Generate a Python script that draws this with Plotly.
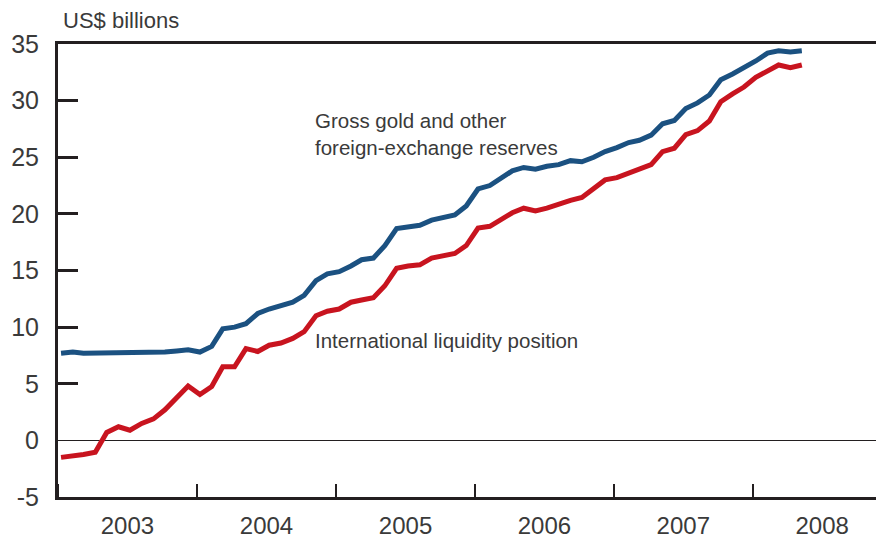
import plotly.graph_objects as go
import pandas as pd

dates = pd.date_range("2003-01-01", "2008-05-01", freq="MS") + pd.Timedelta(days=8)

gross_reserves = [
    7.7, 7.8, 7.7, 7.7, 7.8, 7.7, 7.8, 7.8, 7.8, 7.8, 7.9, 8.0,
    7.8, 8.3, 9.85, 10.0, 10.3, 11.2, 11.6, 11.9, 12.2, 12.8, 14.1, 14.7,
    14.9, 15.4, 15.95, 16.1, 17.2, 18.7, 18.9, 19.0, 19.45, 19.7, 19.9, 20.7,
    22.2, 22.5, 23.1, 23.8, 24.1, 23.95, 24.2, 24.35, 24.7, 24.6, 25.0, 25.5,
    25.85, 26.3, 26.5, 26.95, 27.95, 28.25, 29.3, 29.8, 30.5, 31.85, 32.35, 32.9,
    33.5, 34.2, 34.4, 34.3, 34.4,
]
liquidity_position = [
    -1.5, -1.4, -1.25, -1.05, 0.7, 1.2, 0.9, 1.5, 1.9, 2.7, 3.85, 4.8,
    4.05, 4.75, 6.5, 6.5, 8.1, 7.85, 8.4, 8.6, 9.0, 9.6, 11.0, 11.4,
    11.6, 12.2, 12.4, 12.6, 13.65, 15.2, 15.4, 15.5, 16.1, 16.3, 16.5, 17.2,
    18.75, 18.9, 19.45, 20.1, 20.5, 20.25, 20.5, 20.9, 21.2, 21.45, 22.2, 23.0,
    23.2, 23.6, 23.9, 24.35, 25.5, 25.8, 27.0, 27.35, 28.2, 29.9, 30.6, 31.2,
    32.05, 32.6, 33.15, 32.9, 33.15,
]
y_tick_values = [-5, 0, 5, 10, 15, 20, 25, 30, 35]
y_tick_labels = ["-5", "0", "5", "10", "15", "20", "25", "30", "35"]
y_inner_ticks = [5, 10, 15, 20, 25, 30]

BLUE = "#1b5181"
RED = "#c8141f"
AXIS = "#231f20"
TEXT = "#3a3a3a"
FONT = "Liberation Sans"

fig = go.Figure()
fig.add_trace(go.Scatter(x=dates, y=gross_reserves, mode="lines",
                         line=dict(color=BLUE, width=5), showlegend=False,
                         hoverinfo="skip"))
fig.add_trace(go.Scatter(x=dates, y=liquidity_position, mode="lines",
                         line=dict(color=RED, width=5), showlegend=False,
                         hoverinfo="skip"))
# invisible trace to anchor the tick-only overlay axis
fig.add_trace(go.Scatter(x=[dates[0]], y=[None], yaxis="y2", mode="lines",
                         showlegend=False, hoverinfo="skip"))

fig.update_layout(
    width=876, height=541,
    margin=dict(l=58, r=0, t=44, b=44, autoexpand=False),
    paper_bgcolor="white", plot_bgcolor="white",
    font=dict(family=FONT, size=22, color=TEXT),
    xaxis=dict(
        type="date", range=["2003-01-01", "2008-11-20"],
        dtick="M12", tick0="2003-01-01", tickformat="%Y",
        ticklabelmode="period", automargin=False,
        ticks="inside", ticklen=13, tickwidth=2, tickcolor=AXIS,
        showline=True, linewidth=3, linecolor=AXIS, mirror=True,
        showgrid=False, zeroline=False, ticklabelstandoff=5,
        tickfont=dict(size=24, color=TEXT),
    ),
    yaxis=dict(
        range=[-5, 35], tickmode="array", tickvals=y_tick_values,
        ticktext=y_tick_labels, automargin=False,
        ticks="", showline=True, linewidth=3, linecolor=AXIS,
        showgrid=False, zeroline=True, zerolinecolor=AXIS, zerolinewidth=1,
        ticklabelstandoff=11,
        tickfont=dict(size=25, color=TEXT),
    ),
    yaxis2=dict(
        range=[-5, 35], overlaying="y", side="left", automargin=False,
        tickvals=y_inner_ticks, showticklabels=False,
        ticks="inside", ticklen=20, tickwidth=3, tickcolor=AXIS,
        showline=False, showgrid=False, zeroline=False,
    ),
    annotations=[
        dict(text="US$ billions", xref="paper", yref="paper",
             x=0.004, y=1.0, yshift=24, xanchor="left", yanchor="middle",
             showarrow=False, font=dict(size=22, color=TEXT)),
        dict(text="Gross gold and other<br>foreign-exchange reserves",
             xref="x", yref="y", x="2004-11-01", y=27.05,
             xanchor="left", yanchor="middle", align="left",
             showarrow=False, font=dict(size=20.5, color=TEXT)),
        dict(text="International liquidity position",
             xref="x", yref="y", x="2004-11-01", y=8.8,
             xanchor="left", yanchor="middle", align="left",
             showarrow=False, font=dict(size=20.5, color=TEXT)),
    ],
)

fig.write_html(
    "out.html",
    config={"displayModeBar": False},
    post_script="document.body.style.margin='0';document.body.style.overflow='hidden';",
)
